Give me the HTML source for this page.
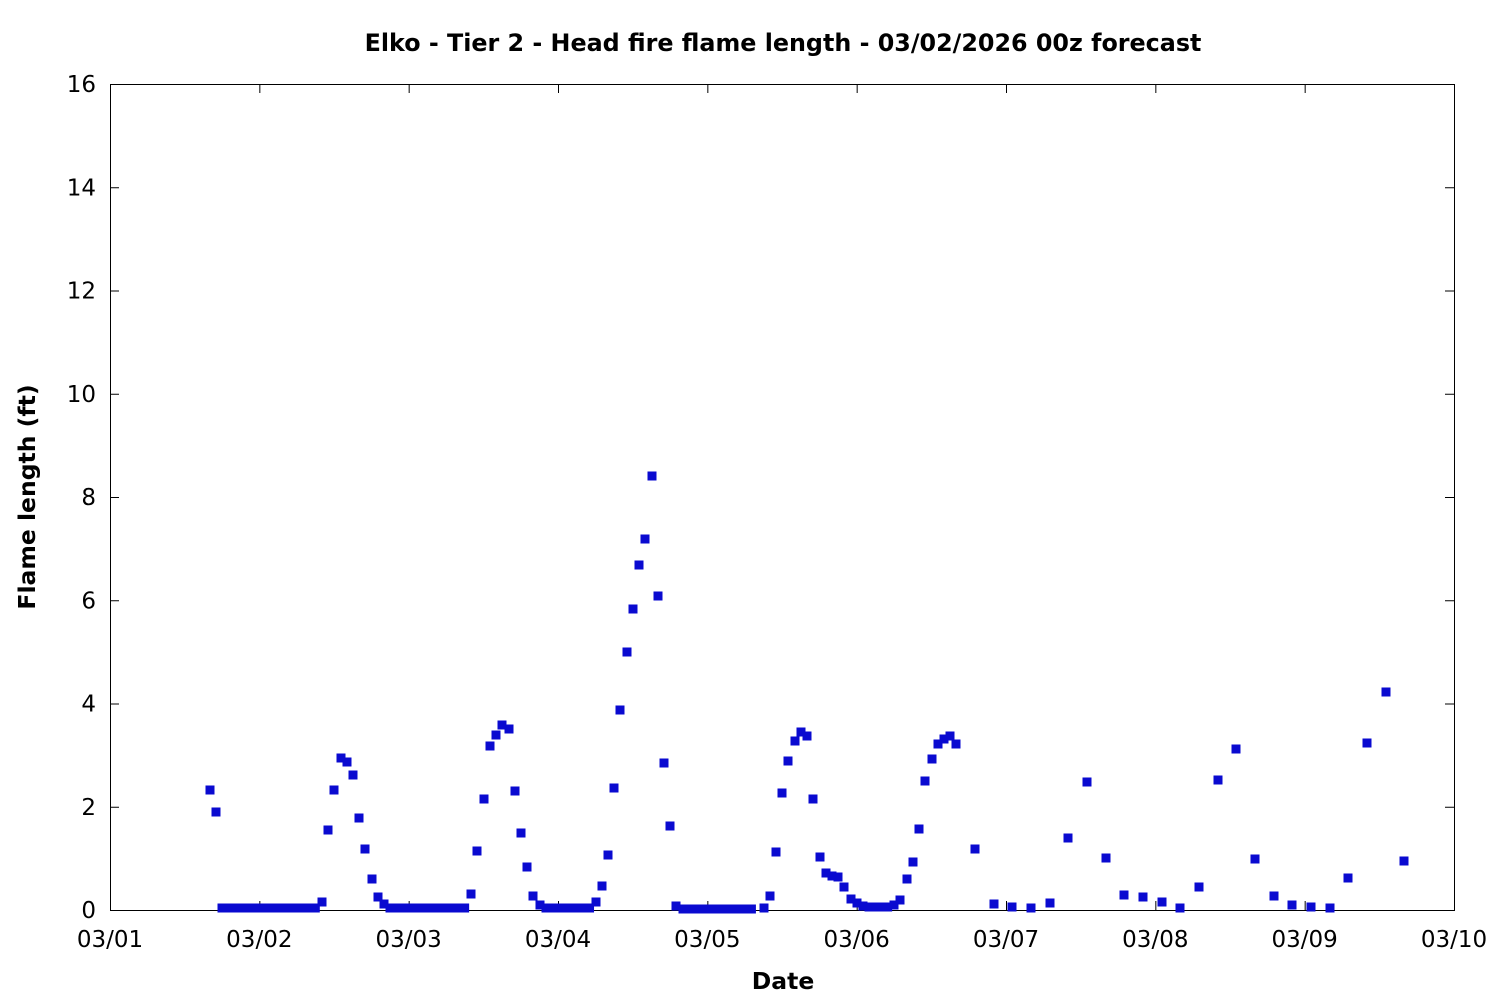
<!DOCTYPE html>
<html><head><meta charset="utf-8"><style>
html,body{margin:0;padding:0;background:#fff}
svg text{font-family:"DejaVu Sans","Liberation Sans",sans-serif;fill:#000}
</style></head><body>
<svg id="s" width="1500" height="1000" xmlns="http://www.w3.org/2000/svg">
<rect x="0" y="0" width="1500" height="1000" fill="#fff"/>
<text x="783" y="51" text-anchor="middle" font-size="23.8" font-weight="bold">Elko - Tier 2 - Head fire flame length - 03/02/2026 00z forecast</text>
<text x="783" y="989" text-anchor="middle" font-size="23.5" font-weight="bold">Date</text>
<text transform="translate(35,497) rotate(-90)" text-anchor="middle" font-size="23.5" font-weight="bold">Flame length (ft)</text>
<g id="ax" stroke="#000" stroke-width="1" fill="none"><rect x="110.5" y="84.5" width="1344" height="826"/></g>
<g id="lab" font-size="23"></g>
<g id="pts" fill="#0a0ad0"></g>
</svg>
<script>
var ns="http://www.w3.org/2000/svg",ax=document.getElementById("ax"),lab=document.getElementById("lab"),pts=document.getElementById("pts");
function el(p,t,a,txt){var e=document.createElementNS(ns,t);for(var k in a)e.setAttribute(k,a[k]);if(txt)e.textContent=txt;p.appendChild(e);}
for(var i=0;i<=8;i++){var y=910-i*826/8;
 el(ax,"line",{x1:110,y1:y+.5,x2:119,y2:y+.5});el(ax,"line",{x1:1445,y1:y+.5,x2:1454,y2:y+.5});
 el(lab,"text",{x:96,y:y+8,"text-anchor":"end"},String(i*2));}
for(var d=0;d<=9;d++){var x=110+d*1344/9;
 el(ax,"line",{x1:x+.5,y1:910,x2:x+.5,y2:901});el(ax,"line",{x1:x+.5,y1:84,x2:x+.5,y2:93});
 el(lab,"text",{x:x,y:947,"text-anchor":"middle"},"03/"+("0"+(d+1)).slice(-2));}
var P=[[210,790],[216,812]];
function zeros(a,b,y){for(var x=a;x<=b+0.1;x+=6.22)P.push([x,y]);}
zeros(222,316,908);
P.push([322,902],[328,830],[334,790],[341,758],[347,762],[353,775],[359,818],[365,849],[372,879],[378,897],[384,904]);
zeros(390,465,908);
P.push([471,894],[477,851],[484,799],[490,746],[496,735],[502,725],[509,729],[515,791],[521,833],[527,867],[533,896],[540,905]);
zeros(546,590,908);
P.push([596,902],[602,886],[608,855],[614,788],[620,710],[627,652],[633,609],[639,565],[645,539],[652,476],[658,596],[664,763],[670,826],[676,906]);
zeros(683,757,909);
P.push([764,908],[770,896],[776,852],[782,793],[788,761],[795,741],[801,732],[807,736],[813,799],[820,857],[826,873],[832,876],[838,877],[844,887],[851,899],[857,903],[863,906]);
zeros(869,888,907);
P.push([894,905],[900,900],[907,879],[913,862],[919,829],[925,781],[932,759],[938,744],[944,739],[950,736],[956,744],
[975,849],[994,904],[1012,907],[1031,908],[1050,903],[1068,838],[1087,782],[1106,858],[1124,895],[1143,897],[1162,902],[1180,908],[1199,887],[1218,780],[1236,749],[1255,859],[1274,896],[1292,905],[1311,907],[1330,908],[1348,878],[1367,743],[1386,692],[1404,861]);
P.forEach(function(p){el(pts,"rect",{x:p[0]-4.5,y:p[1]-4.5,width:9,height:9});});
</script>
</body></html>
